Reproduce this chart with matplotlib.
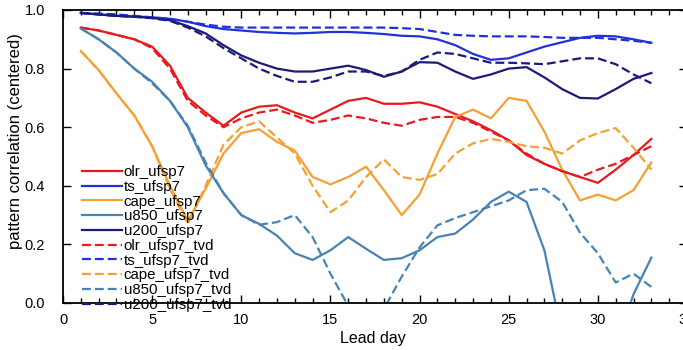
import matplotlib
matplotlib.use("Agg")
import matplotlib.pyplot as plt
from matplotlib.ticker import MultipleLocator

plt.rcParams['font.family'] = ['Liberation Sans', 'DejaVu Sans']

days = [1, 2, 3, 4, 5, 6, 7, 8, 9, 10, 11, 12, 13, 14, 15, 16, 17,
        18, 19, 20, 21, 22, 23, 24, 25, 26, 27, 28, 29, 30, 31, 32, 33]

olr = [0.94, 0.93, 0.915, 0.90, 0.875, 0.81, 0.70, 0.65, 0.605, 0.65, 0.67,
       0.675, 0.65, 0.63, 0.66, 0.69, 0.70, 0.68, 0.68, 0.685, 0.67, 0.645,
       0.62, 0.59, 0.555, 0.505, 0.475, 0.45, 0.43, 0.41, 0.455, 0.505, 0.56]
ts = [0.99, 0.985, 0.98, 0.978, 0.975, 0.97, 0.96, 0.945, 0.935, 0.93, 0.925,
      0.922, 0.92, 0.922, 0.925, 0.925, 0.922, 0.918, 0.912, 0.91, 0.90, 0.88,
      0.85, 0.83, 0.835, 0.855, 0.875, 0.89, 0.905, 0.912, 0.91, 0.90, 0.888]
cape = [0.86, 0.795, 0.715, 0.64, 0.535, 0.40, 0.28, 0.39, 0.51, 0.58, 0.593,
        0.55, 0.52, 0.43, 0.405, 0.43, 0.465, 0.385, 0.30, 0.37, 0.51, 0.635,
        0.66, 0.63, 0.70, 0.69, 0.585, 0.455, 0.35, 0.37, 0.35, 0.385, 0.48]
u850 = [0.937, 0.90, 0.855, 0.80, 0.755, 0.69, 0.60, 0.47, 0.375, 0.30, 0.27,
        0.23, 0.17, 0.147, 0.18, 0.225, 0.185, 0.147, 0.153, 0.18, 0.225, 0.237,
        0.285, 0.345, 0.38, 0.345, 0.18, -0.11, -0.4, -0.4, -0.15, 0.03, 0.155]
u200 = [0.99, 0.985, 0.98, 0.977, 0.973, 0.965, 0.945, 0.92, 0.88, 0.845, 0.82,
        0.80, 0.79, 0.79, 0.80, 0.81, 0.795, 0.772, 0.79, 0.822, 0.82, 0.79,
        0.765, 0.78, 0.80, 0.805, 0.77, 0.73, 0.70, 0.698, 0.73, 0.765, 0.785]

olr_tvd = [0.94, 0.93, 0.915, 0.90, 0.87, 0.80, 0.69, 0.64, 0.60, 0.63, 0.65,
           0.66, 0.64, 0.615, 0.625, 0.64, 0.63, 0.615, 0.605, 0.625, 0.635, 0.635,
           0.615, 0.585, 0.555, 0.51, 0.475, 0.45, 0.43, 0.455, 0.475, 0.505, 0.535]
ts_tvd = [0.99, 0.988, 0.985, 0.98, 0.975, 0.97, 0.96, 0.95, 0.943, 0.94, 0.94,
          0.94, 0.94, 0.94, 0.94, 0.94, 0.94, 0.94, 0.938, 0.935, 0.925, 0.915,
          0.912, 0.91, 0.91, 0.91, 0.908, 0.905, 0.905, 0.905, 0.90, 0.895, 0.888]
cape_tvd = [0.86, 0.795, 0.715, 0.64, 0.535, 0.39, 0.27, 0.40, 0.54, 0.60, 0.62,
            0.565, 0.51, 0.40, 0.31, 0.35, 0.43, 0.49, 0.43, 0.42, 0.44, 0.51,
            0.545, 0.56, 0.55, 0.535, 0.53, 0.51, 0.555, 0.58, 0.597, 0.53, 0.455]
u850_tvd = [0.937, 0.90, 0.855, 0.80, 0.75, 0.69, 0.605, 0.48, 0.375, 0.30, 0.267,
            0.276, 0.30, 0.225, 0.10, -0.01, -0.12, -0.02, 0.09, 0.19, 0.265, 0.29,
            0.31, 0.33, 0.35, 0.385, 0.39, 0.345, 0.24, 0.17, 0.07, 0.10, 0.055]
u200_tvd = [0.99, 0.985, 0.98, 0.977, 0.972, 0.963, 0.94, 0.91, 0.87, 0.835, 0.80,
            0.775, 0.755, 0.755, 0.77, 0.79, 0.79, 0.775, 0.79, 0.83, 0.855, 0.85,
            0.835, 0.82, 0.82, 0.818, 0.815, 0.825, 0.835, 0.835, 0.815, 0.78, 0.75]

names = ["olr", "ts", "cape", "u850", "u200"]
colors = ["#e8191f", "#2230d8", "#f5a033", "#4783b5", "#1b1b78"]
solid = [olr, ts, cape, u850, u200]
dashed = [olr_tvd, ts_tvd, cape_tvd, u850_tvd, u200_tvd]

fig = plt.figure(figsize=(6.83, 3.5), dpi=100)
# axes placed in figure fractions, right edge runs just past the image like the reference
ax = fig.add_axes([63 / 683, 47 / 350, 624 / 683, 293 / 350])

for name, c, vals in zip(names, colors, solid):
    ax.plot(days, vals, color=c, lw=1.6, label=name + "_ufsp7")
for name, c, vals in zip(names, colors, dashed):
    ax.plot(days, vals, color=c, lw=1.6, ls=(0, (4, 1.8)), label=name + "_ufsp7_tvd")

ax.set_xlim(0, 35)
ax.set_ylim(0, 1)
ax.xaxis.set_major_locator(MultipleLocator(5))
ax.xaxis.set_minor_locator(MultipleLocator(1))
ax.yaxis.set_major_locator(MultipleLocator(0.2))
ax.yaxis.set_major_formatter(plt.FormatStrFormatter('%.1f'))
ax.tick_params(which='both', direction='in', top=True, right=True, width=1.0,
               labelsize=10.5, colors='black')
ax.tick_params(axis='y', pad=13)
ax.tick_params(axis='x', pad=7)
ax.tick_params(which='major', length=6)
ax.tick_params(which='minor', length=3.5)
for sp in ax.spines.values():
    sp.set_linewidth(1.3)

ax.set_xlabel("Lead day", fontsize=11.5)
ax.set_ylabel("pattern correlation (centered)", fontsize=12)
ax.xaxis.set_label_coords(0.497, -0.095)
ax.yaxis.set_label_coords(-0.064, 0.553)

ax.legend(loc='lower left', bbox_to_anchor=(0.03, -0.03), frameon=False,
          fontsize=10.8, handlelength=2.7, handletextpad=0.1, labelspacing=0.05,
          borderpad=0, borderaxespad=0)

fig.savefig("out.png", dpi=100)
